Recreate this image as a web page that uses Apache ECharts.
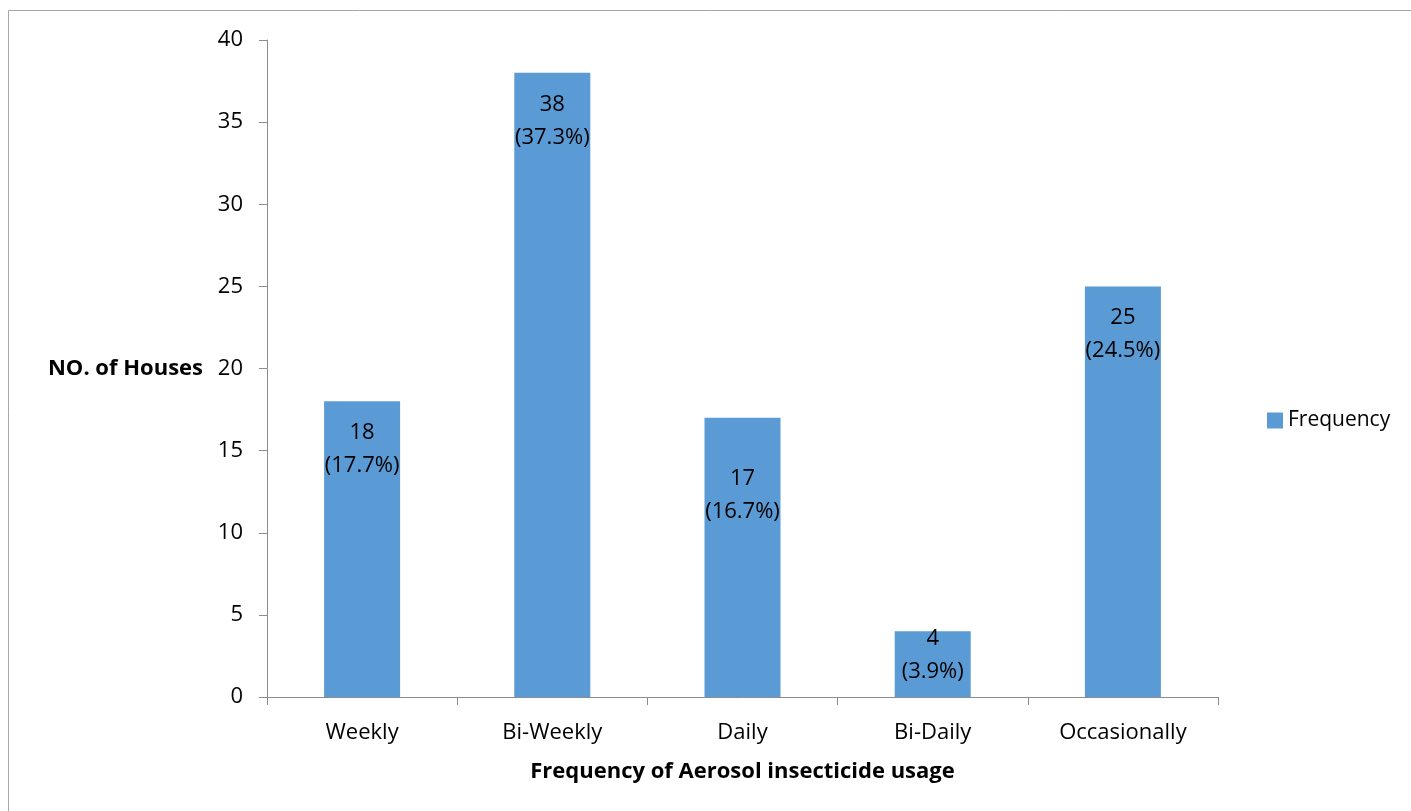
<!DOCTYPE html>
<html>
<head>
<meta charset="utf-8">
<title>Frequency of Aerosol insecticide usage</title>
<script src="https://cdn.jsdelivr.net/npm/echarts@6/dist/echarts.min.js"></script>
<style>
  html, body { margin: 0; padding: 0; background: #ffffff; }
  #chart { width: 1411px; height: 811px; }
</style>
</head>
<body>
<div id="chart"></div>
<script>
// Usage frequency categories and household counts
const categories = ['Weekly', 'Bi-Weekly', 'Daily', 'Bi-Daily', 'Occasionally'];
const houses = [18, 38, 17, 4, 25];
const percents = ['17.7%', '37.3%', '16.7%', '3.9%', '24.5%'];
const yTicks = { min: 0, max: 40, step: 5 };

// Vertical nudges for the in-bar labels (px)
const labelNudge = [0, 0, 29, -24, 0];

const FONT = '"Open Sans", "Noto Sans", sans-serif';
const FS = 22;
const AXIS_GREY = '#8c8c8c';

const chart = echarts.init(document.getElementById('chart'), null, { renderer: 'canvas' });

const barData = houses.map((v, i) => ({
  value: v,
  label: { offset: [0, labelNudge[i]] }
}));

chart.setOption({
  animation: false,
  backgroundColor: '#ffffff',
  textStyle: { fontFamily: FONT },
  graphic: [{
    type: 'rect',
    shape: { x: 8.5, y: 10.5, width: 1430, height: 830 },
    style: { fill: 'none', stroke: '#a6a6a6', lineWidth: 1 },
    silent: true
  }],
  grid: { left: 267, top: 40, width: 951, height: 657, containLabel: false },
  legend: {
    data: ['Frequency'],
    left: 1262, top: 405,
    itemWidth: 16, itemHeight: 16, itemGap: 6,
    icon: 'rect',
    textStyle: { fontFamily: FONT, fontSize: 21, color: '#000' }
  },
  xAxis: {
    type: 'category',
    data: categories,
    name: 'Frequency of Aerosol insecticide usage',
    nameLocation: 'middle',
    nameGap: 64,
    nameTextStyle: { fontFamily: FONT, fontSize: 22, fontWeight: 'bold', color: '#000' },
    axisLine: { lineStyle: { color: AXIS_GREY, width: 1 } },
    axisTick: { show: true, length: 8, alignWithLabel: false, lineStyle: { color: AXIS_GREY } },
    axisLabel: { margin: 25, fontFamily: FONT, fontSize: FS, color: '#000' },
    splitLine: { show: false }
  },
  yAxis: {
    type: 'value',
    min: yTicks.min, max: yTicks.max, interval: yTicks.step,
    name: 'NO. of Houses',
    nameLocation: 'middle',
    nameRotate: 0,
    nameGap: 64,
    nameTextStyle: { fontFamily: FONT, fontSize: 22, fontWeight: 'bold', color: '#000', align: 'right', verticalAlign: 'middle' },
    axisLine: { show: true, lineStyle: { color: AXIS_GREY, width: 1 } },
    axisTick: { show: true, length: 8, lineStyle: { color: AXIS_GREY } },
    axisLabel: { margin: 24, fontFamily: FONT, fontSize: FS, color: '#000' },
    splitLine: { show: false }
  },
  series: [{
    name: 'Frequency',
    type: 'bar',
    data: barData,
    barWidth: 76,
    itemStyle: { color: '#5B9BD5' },
    label: {
      show: true,
      position: 'insideTop',
      distance: 15,
      fontFamily: FONT,
      fontSize: FS,
      lineHeight: 33,
      color: '#000',
      formatter: p => p.value + '\n(' + percents[p.dataIndex] + ')'
    }
  }]
});
</script>
</body>
</html>
